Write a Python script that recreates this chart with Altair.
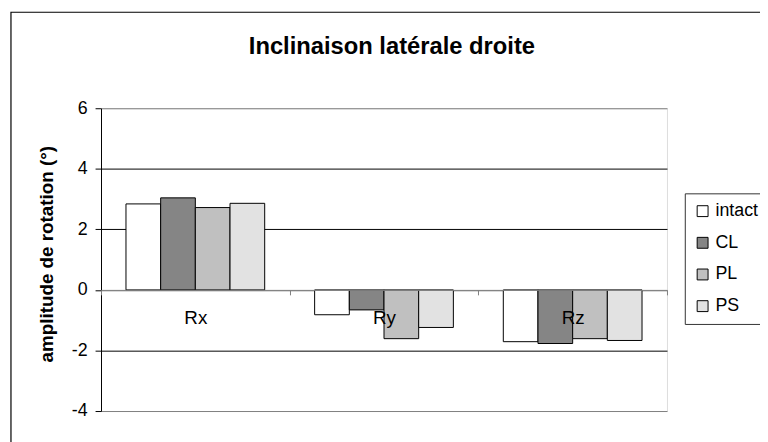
import altair as alt
import pandas as pd

categories = ["Rx", "Ry", "Rz"]
series = ["intact", "CL", "PL", "PS"]
intact = [2.84, -0.82, -1.71]
cl = [3.04, -0.66, -1.77]
pl = [2.72, -1.61, -1.61]
ps = [2.86, -1.24, -1.67]
colors = ["#ffffff", "#858585", "#c0c0c0", "#e2e2e2"]
y_ticks = [-4, -2, 0, 2, 4, 6]
chart_title = "Inclinaison latérale droite"

rows = []
for s, vals in zip(series, [intact, cl, pl, ps]):
    for c, v in zip(categories, vals):
        rows.append({"axe": c, "serie": s, "valeur": v})
df = pd.DataFrame(rows)

FONT = "Liberation Sans"
W, H = 572, 306
zero_offset = -(H - H * 6 / 10)

bars = alt.Chart(df).mark_bar(stroke="black", strokeWidth=1).encode(
    x=alt.X("axe:N", sort=categories,
            scale=alt.Scale(paddingInner=0, paddingOuter=0),
            axis=alt.Axis(title=None, labelAngle=0, offset=zero_offset,
                          domainColor="#808080", tickColor="#808080",
                          tickBand="extent", tickSize=5, zindex=2,
                          labelFontSize=19, labelPadding=14, labelColor="black",
                          labelFont=FONT)),
    xOffset=alt.XOffset("serie:N", sort=series,
                        scale=alt.Scale(paddingInner=0, paddingOuter=0.72)),
    y=alt.Y("valeur:Q",
            scale=alt.Scale(domain=[-4, 6], nice=False, zero=False),
            axis=alt.Axis(values=y_ticks, grid=True,
                          gridColor={"condition": {"test": "datum.value == 6 || datum.value == -4 || datum.value == 0",
                                                   "value": "#808080"}, "value": "black"},
                          domainColor="black", tickColor="black", tickSize=6,
                          labelFontSize=18, labelPadding=8, labelColor="black",
                          labelFont=FONT, labelExpr="datum.value + ''",
                          title="amplitude de rotation (°)", titleFont=FONT,
                          titleFontSize=19, titleFontWeight="bold", titleColor="black",
                          titleX=-55, titleY=147, titleBaseline="middle", titleAngle=-90)),
    fill=alt.Fill("serie:N", sort=series,
                  scale=alt.Scale(domain=series, range=colors),
                  legend=alt.Legend(title=None, orient="none", legendX=590, legendY=86,
                                    symbolType="square", symbolSize=121,
                                    symbolStrokeColor="black", symbolStrokeWidth=1,
                                    labelFontSize=18, labelFont=FONT, labelColor="black",
                                    labelOffset=4, rowPadding=14, padding=9,
                                    strokeColor="#333333", fillColor="white")),
)

frame_df = pd.DataFrame({"cadre": [0]})
frame = alt.Chart(frame_df).mark_rect(fill=None, stroke="black", strokeWidth=1.2).encode(
    x=alt.value(-91), y=alt.value(-97), x2=alt.value(800), y2=alt.value(500)
)

title_df = pd.DataFrame({"titre": [chart_title]})
title = alt.Chart(title_df).mark_text(
    font=FONT, fontSize=24, fontWeight="bold", color="black",
    align="center", baseline="alphabetic"
).encode(text="titre:N", x=alt.value(294), y=alt.value(-55))

chart = alt.layer(frame, bars, title).properties(
    width=W, height=H,
    autosize=alt.AutoSizeParams(type="none"),
    padding={"left": 94, "top": 99, "right": 94, "bottom": 29},
).configure_view(stroke="#808080", strokeWidth=1.5).configure(background="white")

chart.save("out.html", embed_options={"renderer": "svg", "actions": False})
